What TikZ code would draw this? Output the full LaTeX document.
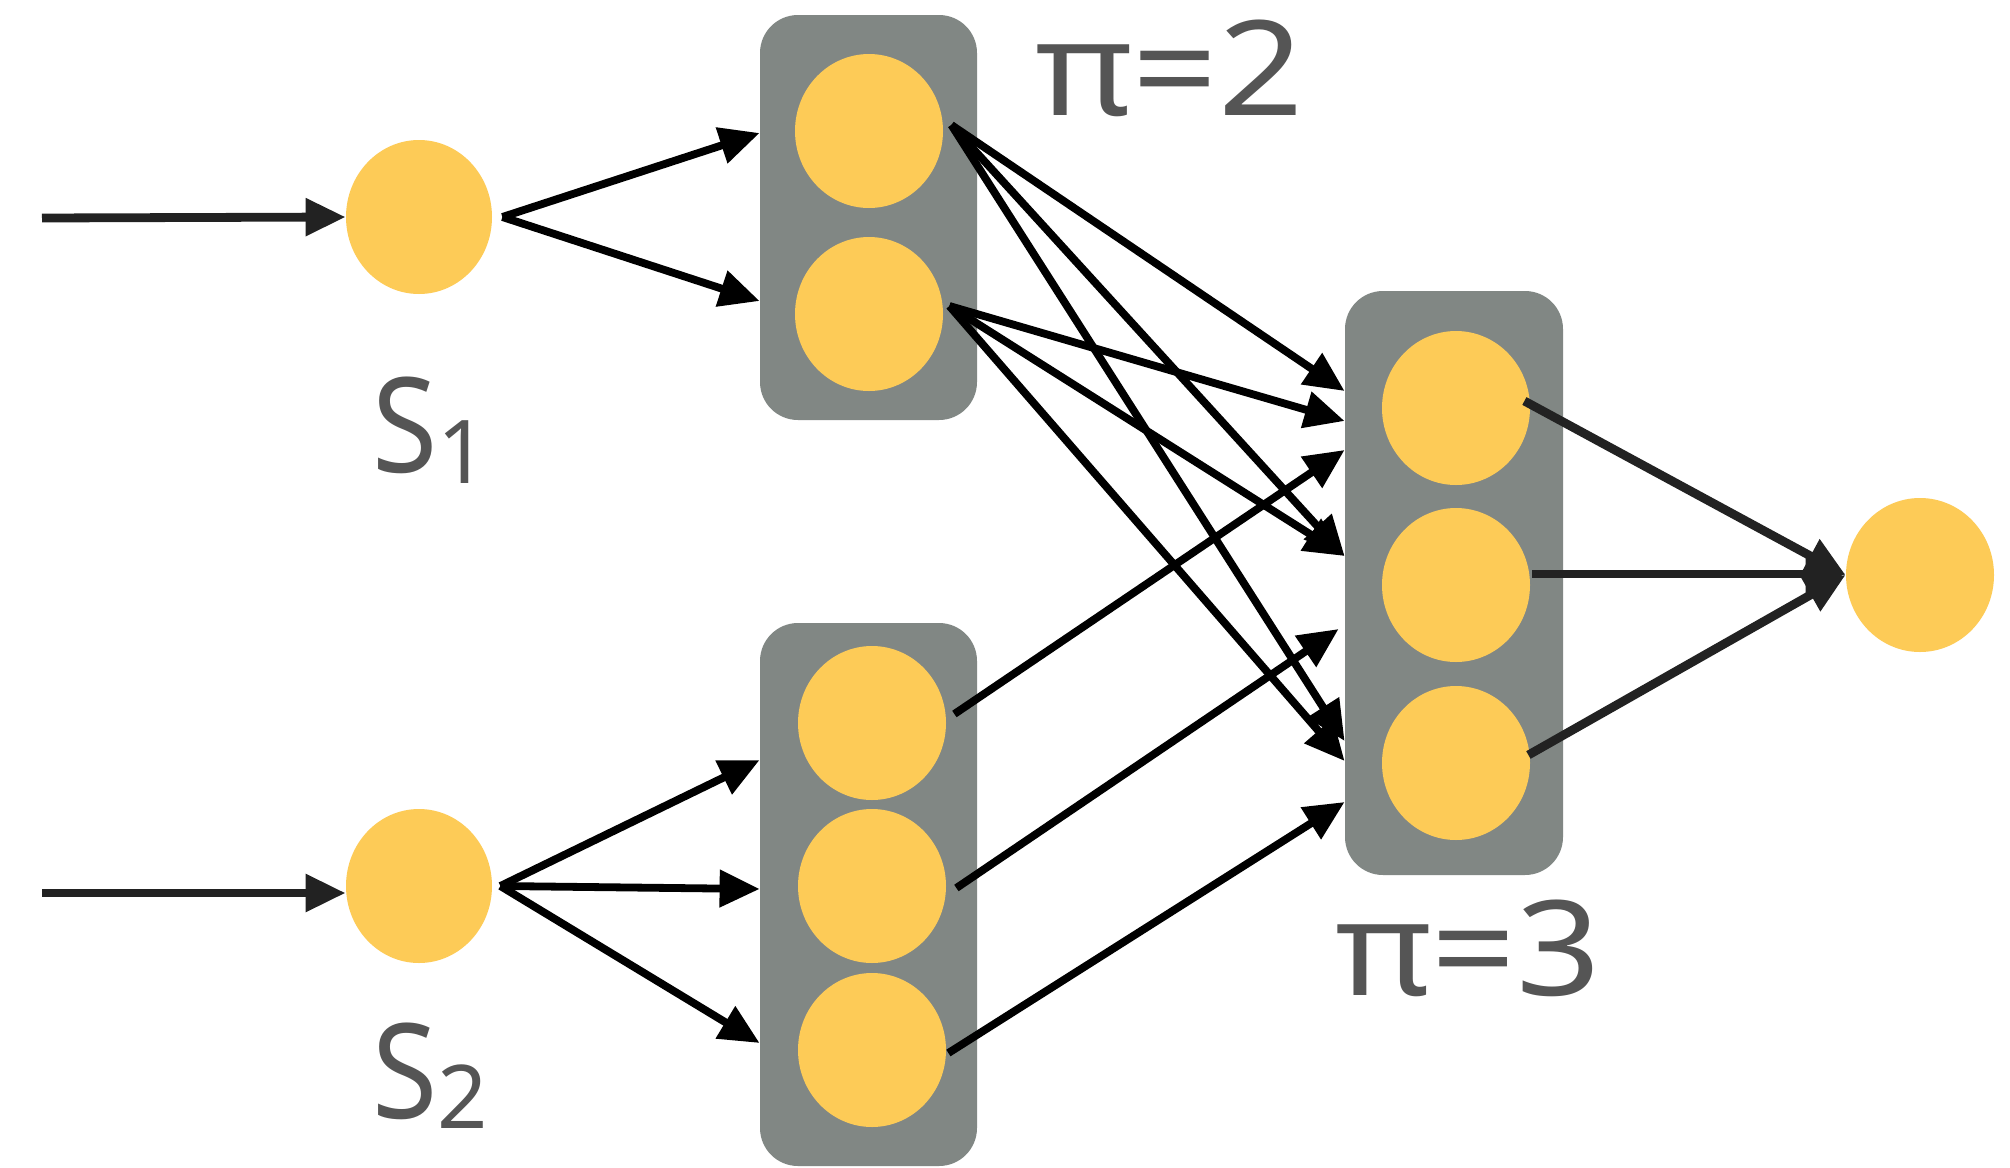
\documentclass[tikz,border=0pt]{standalone}
\usepackage{fontspec}
\setmainfont{Noto Sans}
\usetikzlibrary{arrows.meta,shapes.geometric}
\definecolor{unitfill}{HTML}{FDCB57}
\definecolor{layerfill}{HTML}{818784}
\definecolor{labelgray}{HTML}{555555}
\definecolor{inkdark}{HTML}{222222}
\begin{document}
\begin{tikzpicture}[x=0.5pt,y=-0.5pt,
  unit/.style={ellipse, fill=unitfill, draw=none, inner sep=0pt,
    minimum width=74pt, minimum height=77pt},
  layer/.style={rectangle, rounded corners=19pt, fill=layerfill, draw=none, inner sep=0pt},
  link/.style={line width=3.9pt, draw=black, -{Triangle[length=20pt,width=18pt]}},
  feed/.style={link, line width=4.4pt, draw=inkdark},
  lbl/.style={text=labelgray, inner sep=0pt, font=\fontsize{66pt}{66pt}\selectfont}
]
\fill[white] (0,0) rectangle (2010,1168);
\useasboundingbox (0,0) rectangle (2010,1168);

% layer panels
\node[layer, minimum width=108.5pt, minimum height=202.5pt] (L1) at (868.5,217.5) {};
\node[layer, minimum width=108.5pt, minimum height=271.5pt] (L2) at (868.5,894.5) {};
\node[layer, minimum width=109pt,   minimum height=292pt]   (L3) at (1454,583) {};

% units
\node[unit, minimum width=73pt] (S1)  at (419,217) {};
\node[unit, minimum width=73pt] (S2)  at (419,886) {};
\node[unit] (U1a) at (869,131) {};
\node[unit] (U1b) at (869,314) {};
\node[unit] (U2a) at (872,723) {};
\node[unit] (U2b) at (872,886) {};
\node[unit] (U2c) at (872,1050) {};
\node[unit] (U3a) at (1456,408) {};
\node[unit] (U3b) at (1456,585) {};
\node[unit] (U3c) at (1456,763) {};
\node[unit] (Out) at (1920,575) {};

% labels
\node[lbl, anchor=base west] (pi2) at (1035,115) {\scalebox{1.13}[1]{π=2}};
\node[lbl, anchor=base west] (pi3) at (1335,995) {\scalebox{1.12}[1]{π=3}};
\node[lbl, anchor=base west] (s1lbl) at (372,472) {\scalebox{0.9}[1]{S}\raisebox{-5.5pt}{\fontsize{44pt}{44pt}\selectfont 1}};
\node[lbl, anchor=base west] (s2lbl) at (372,1118) {\scalebox{0.9}[1]{S}\raisebox{-5pt}{\fontsize{44pt}{44pt}\selectfont 2}};

% connector end points
\coordinate (in1) at (42,218);
\coordinate (in2) at (42,893);
\coordinate (S1o) at ([xshift=5pt]S1.east);
\coordinate (S2o) at ([xshift=4pt]S2.east);
\coordinate (U1ao) at ([xshift=4pt,yshift=3pt]U1a.east);
\coordinate (U1bo) at ([xshift=3pt,yshift=4pt]U1b.east);
\coordinate (U2ao) at ([xshift=4pt,yshift=4.5pt]U2a.east);
\coordinate (U2bo) at ([xshift=5pt,yshift=-1pt]U2b.east);
\coordinate (U2co) at ([xshift=1pt,yshift=-1.5pt]U2c.east);
\coordinate (U3ao) at ([xshift=-3pt,yshift=3.5pt]U3a.east);
\coordinate (U3bo) at ([xshift=1pt,yshift=5.5pt]U3b.east);
\coordinate (U3co) at ([xshift=-1pt,yshift=4pt]U3c.east);

% inputs
\draw[feed] (in1) -- (S1.west);
\draw[feed] (in2) -- (in2 -| S2.west);

% first stage
\draw[link] (S1o) -- ([yshift=42.25pt]L1.west);
\draw[link] (S1o) -- ([yshift=-41.75pt]L1.west);
\draw[link] (S2o) -- ([yshift=67.25pt]L2.west);
\draw[link] (S2o) -- ([yshift=2.75pt]L2.west);
\draw[link] (S2o) -- ([yshift=-74.25pt]L2.west);

% second stage
\draw[link] (U1ao) -- ([yshift=96pt]L3.west);
\draw[link] (U1ao) -- ([yshift=13.5pt]L3.west);
\draw[link] (U1ao) -- ([yshift=-79pt]L3.west);
\draw[link] (U1bo) -- ([yshift=81pt]L3.west);
\draw[link] (U1bo) -- ([yshift=13.5pt]L3.west);
\draw[link] (U1bo) -- ([yshift=-89pt]L3.west);
\draw[link] (U2ao) -- ([yshift=66.5pt]L3.west);
\draw[link] (U2bo) -- ([xshift=-3pt,yshift=-23pt]L3.west);
\draw[link] (U2co) -- ([yshift=-109.5pt]L3.west);

% output stage
\draw[feed] (U3ao) -- (Out.west);
\draw[feed] (U3bo) -- (U3bo -| Out.west);
\draw[feed] (U3co) -- (Out.west);
\end{tikzpicture}
\end{document}
